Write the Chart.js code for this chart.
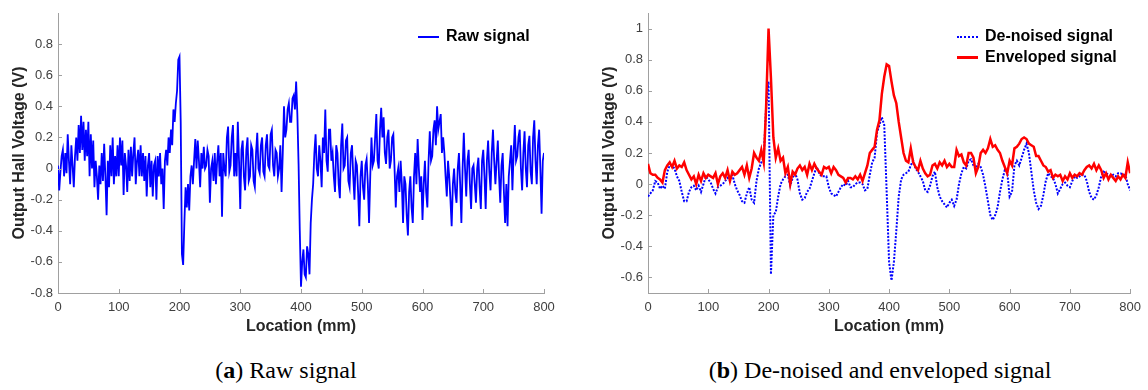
<!DOCTYPE html>
<html>
<head>
<meta charset="utf-8">
<script src="https://cdn.jsdelivr.net/npm/chart.js@4.4.1/dist/chart.umd.min.js"></script>
<style>
  body { margin: 0; background: #fff; width: 1148px; height: 390px; position: relative; overflow: hidden;
         font-family: "Liberation Sans", Arial, sans-serif; }
  .panel { position: absolute; top: 0; }
  #boxA { left: 0; }
  #boxB { left: 590px; }
  .leg { position: absolute; font-weight: bold; font-size: 16px; color: #000; line-height: 20px; white-space: nowrap; }
  .sw { display: inline-block; width: 21px; height: 0; vertical-align: middle; margin-right: 7px; }
  .cap { position: absolute; top: 357px; font-family: "Liberation Serif", serif; font-size: 24px; color: #000;
         white-space: nowrap; transform: translateX(-50%); }
</style>
</head>
<body>
<div class="panel" id="boxA"><canvas id="graficaA" width="580" height="340"></canvas></div>
<div class="panel" id="boxB"><canvas id="graficaB" width="558" height="340"></canvas></div>

<div class="leg" style="left:418px; top:26px;"><span class="sw" style="border-top:2px solid #0000ff;"></span>Raw signal</div>
<div class="leg" style="left:957px; top:26px;"><span class="sw" style="border-top:2px dotted #0000ff;"></span>De-noised signal</div>
<div class="leg" style="left:957px; top:47px;"><span class="sw" style="border-top:3px solid #ff0000;"></span>Enveloped signal</div>

<div class="cap" style="left:286px;">(<b>a</b>) Raw signal</div>
<div class="cap" style="left:880px;">(<b>b</b>) De-noised and enveloped signal</div>

<script>
// (a) señal cruda, una muestra cada 2 mm (0..800 mm)
const STEP_A = 2;
const raw = [
  0.02, -0.14, -0.02, 0.08, 0.12, -0.05, 0.1, -0.03, 0.22, 0.05,
  -0.1, 0.15, 0.02, -0.12, 0.08, 0.2, 0.05, 0.28, 0.1, 0.34,
  0.12, 0.3, 0.05, 0.25, 0.08, 0.3, -0.05, 0.22, 0.0, 0.18,
  -0.12, 0.05, -0.05, -0.2, 0.02, -0.1, 0.1, -0.08, 0.16, -0.05,
  -0.3, 0.05, -0.12, 0.15, -0.05, 0.2, -0.1, 0.08, -0.05, 0.15,
  -0.05, 0.2, 0.02, 0.18, -0.17, 0.1, 0.02, -0.15, 0.12, -0.08,
  0.14, -0.05, 0.1, 0.2, -0.1, 0.05, 0.12, -0.05, 0.15, -0.05,
  0.1, -0.08, 0.08, -0.18, 0.02, 0.1, -0.12, 0.05, -0.18, 0.02,
  0.05, -0.2, 0.08, -0.05, 0.1, -0.1, 0.0, -0.26, 0.05, 0.12,
  0.02, 0.2, 0.1, 0.25, 0.15, 0.38, 0.3, 0.42, 0.5, 0.7,
  0.72, 0.3, -0.55, -0.62, -0.35, -0.12, -0.25, -0.1, -0.27, -0.05,
  0.02, -0.1, 0.05, 0.19, 0.0, 0.18, 0.05, -0.12, 0.1, 0.0,
  0.14, 0.0, 0.02, 0.12, 0.08, -0.22, 0.0, 0.05, -0.08, 0.1,
  -0.1, 0.05, 0.15, -0.05, 0.1, -0.31, 0.1, 0.0, -0.05, 0.2,
  0.27, -0.02, 0.02, 0.2, 0.28, -0.05, 0.1, -0.05, 0.3, 0.05,
  -0.26, 0.12, 0.18, -0.05, -0.14, 0.12, 0.2, -0.08, -0.05, 0.15,
  0.12, -0.08, -0.12, 0.1, 0.23, 0.0, -0.03, 0.15, 0.2, -0.02,
  -0.05, 0.15, 0.22, 0.02, 0.0, 0.22, 0.25, 0.02, -0.05, 0.12,
  0.1, -0.05, 0.0, 0.15, -0.15, 0.1, 0.4, 0.2, 0.25, 0.38,
  0.42, 0.3, 0.3, 0.45, 0.47, 0.38, 0.56, 0.35, 0.03, -0.4,
  -0.76, -0.6, -0.52, -0.68, -0.7, -0.5, -0.55, -0.68, -0.35, -0.2,
  -0.1, 0.1, 0.22, 0.0, -0.05, 0.15, 0.05, -0.12, 0.2, 0.1,
  0.38, 0.05, -0.02, 0.25, 0.25, 0.05, 0.1, -0.05, -0.15, 0.15,
  0.1, -0.1, -0.19, 0.15, 0.29, 0.0, 0.02, 0.18, 0.2, -0.08,
  -0.12, 0.1, 0.15, -0.05, -0.2, 0.05, 0.02, -0.15, -0.37, -0.05,
  0.05, -0.12, -0.2, 0.02, 0.06, -0.1, -0.35, -0.05, 0.2, 0.02,
  0.05, 0.2, 0.35, 0.05, 0.0, 0.25, 0.39, 0.2, 0.33, 0.1,
  0.03, 0.2, 0.25, 0.0, 0.05, 0.2, 0.22, 0.0, -0.25, -0.05,
  0.0, -0.15, 0.05, -0.1, -0.35, -0.05, -0.1, -0.3, -0.43, -0.15,
  -0.05, -0.25, -0.35, -0.05, 0.1, -0.1, 0.19, 0.0, -0.15, -0.05,
  -0.33, -0.1, 0.05, -0.15, -0.25, 0.05, 0.24, 0.05, 0.08, 0.25,
  0.31, 0.15, 0.4, 0.25, 0.3, 0.35, 0.1, 0.2, 0.1, -0.05,
  -0.18, 0.05, -0.05, -0.2, -0.37, -0.1, 0.0, -0.15, -0.22, 0.0,
  0.1, -0.1, -0.35, 0.0, 0.23, 0.0, -0.18, 0.05, 0.12, -0.1,
  -0.26, 0.0, 0.02, -0.1, -0.22, 0.0, 0.07, -0.12, -0.26, 0.05,
  0.12, -0.05, -0.26, 0.05, 0.18, -0.02, -0.14, 0.1, 0.25, 0.05,
  -0.1, 0.05, 0.18, -0.05, -0.22, 0.02, 0.1, -0.15, -0.35, -0.1,
  -0.37, -0.05, 0.05, 0.15, -0.14, 0.1, 0.28, 0.05, 0.08, 0.2,
  0.25, 0.0, -0.14, 0.1, 0.24, 0.0, -0.12, 0.15, 0.21, -0.02,
  -0.1, 0.2, 0.31, 0.05, -0.1, 0.15, 0.25, 0.0, -0.29, 0.05,
  0.1
];

// (b) una muestra cada 4 mm (0..800 mm)
const STEP_B = 4;

// señal sin ruido
const denoised = [
  -0.08, -0.06, -0.04, 0.02, 0.01, -0.03, -0.01, -0.03, 0.08, 0.12,
  0.12, 0.1, 0.05, 0.02, -0.05, -0.11, -0.11, -0.05, -0.02, -0.01,
  -0.04, -0.01, -0.05, 0.0, 0.05, 0.03, 0.01, -0.03, -0.06, -0.02,
  -0.01, 0.0, 0.02, 0.04, 0.02, 0.06, 0.0, -0.04, -0.07, -0.11,
  -0.12, -0.06, -0.02, -0.1, -0.12, 0.02, 0.1, 0.14, 0.17, 0.5,
  0.66, -0.58, -0.2, -0.18, -0.08, 0.0, 0.03, 0.05, 0.06, -0.01,
  0.04, 0.07, 0.03, -0.06, -0.1, -0.09, -0.05, -0.03, 0.02, 0.07,
  0.11, 0.07, 0.05, 0.05, 0.05, -0.02, -0.06, -0.07, -0.08, -0.05,
  -0.02, 0.0, -0.01, 0.02, -0.02, -0.02, 0.0, 0.01, 0.01, 0.0,
  -0.04, -0.03, 0.06, 0.14, 0.17, 0.33, 0.38, 0.43, 0.38, -0.05,
  -0.5, -0.62, -0.5, -0.3, -0.08, 0.03, 0.06, 0.07, 0.08, 0.12,
  0.15, 0.1, 0.08, 0.05, 0.02, -0.04, -0.05, -0.01, 0.05, 0.08,
  -0.02, -0.08, -0.11, -0.13, -0.15, -0.12, -0.1, -0.14, -0.1, 0.0,
  0.07, 0.11, 0.1, 0.15, 0.16, 0.12, 0.1, 0.13, 0.11, 0.06,
  -0.02, -0.11, -0.2, -0.23, -0.2, -0.15, -0.05, 0.03, 0.09, 0.08,
  -0.08, -0.05, 0.12, 0.15, 0.12, 0.17, 0.22, 0.26, 0.2, 0.08,
  -0.04, -0.12, -0.16, -0.14, -0.07, 0.02, 0.07, 0.05, 0.04, 0.0,
  -0.06, -0.03, 0.0, 0.01, -0.01, -0.02, 0.02, 0.05, 0.04, 0.05,
  0.06, 0.06, 0.02, -0.05, -0.09, -0.1, -0.07, -0.02, 0.05, 0.08,
  0.07, 0.06, 0.05, 0.06, 0.05, 0.07, 0.07, 0.06, 0.06, 0.0,
  -0.04
];

// envolvente
const enveloped = [
  0.13, 0.07, 0.06, 0.06, 0.04, 0.03, 0.01, 0.09, 0.12, 0.14,
  0.11, 0.15, 0.1, 0.12, 0.11, 0.14, 0.09, 0.06, 0.03, 0.05,
  0.0, 0.06, 0.02, 0.07, 0.04, 0.06, 0.05, 0.04, 0.07, 0.0,
  0.05, 0.07, 0.04, 0.09, 0.02, 0.08, 0.06, 0.07, 0.09, 0.11,
  0.06, 0.12, 0.04, 0.1, 0.2, 0.17, 0.15, 0.22, 0.14, 0.5,
  1.0, 0.68, 0.3, 0.17, 0.23, 0.15, 0.17, 0.07, 0.11, 0.0,
  0.08, 0.06, 0.1, 0.12, 0.09, 0.11, 0.06, 0.13, 0.09, 0.13,
  0.1, 0.08, 0.06, 0.11, 0.1, 0.11, 0.07, 0.11, 0.09, 0.06,
  0.05, 0.04, 0.01, 0.04, 0.04, 0.03, 0.05, 0.03, 0.06, 0.02,
  0.07, 0.12, 0.2, 0.22, 0.24, 0.35, 0.41, 0.58, 0.69, 0.77,
  0.76, 0.66, 0.57, 0.52, 0.4, 0.3, 0.2, 0.15, 0.14, 0.23,
  0.14, 0.11, 0.09, 0.15, 0.1, 0.07, 0.05, 0.06, 0.12, 0.13,
  0.1, 0.14, 0.12, 0.15, 0.11, 0.13, 0.11, 0.11, 0.22, 0.18,
  0.19, 0.14, 0.12, 0.2, 0.2, 0.17, 0.07, 0.11, 0.2, 0.22,
  0.2, 0.23, 0.29, 0.24, 0.25, 0.22, 0.2, 0.15, 0.11, 0.07,
  0.15, 0.12, 0.23, 0.24, 0.26, 0.29, 0.3, 0.29, 0.26, 0.25,
  0.24, 0.18, 0.18, 0.15, 0.12, 0.11, 0.08, 0.09, 0.04, 0.06,
  0.05, 0.06, 0.02, 0.05, 0.03, 0.07, 0.04, 0.06, 0.05, 0.07,
  0.06, 0.09, 0.11, 0.12, 0.1, 0.13, 0.09, 0.12, 0.09, 0.04,
  0.07, 0.03, 0.06, 0.04, 0.02, 0.05, 0.03, 0.06, 0.04, 0.14,
  0.07
];

// marcas de los ejes
const xTicks = [0, 100, 200, 300, 400, 500, 600, 700, 800];
const yTicksA = [-0.8, -0.6, -0.4, -0.2, 0, 0.2, 0.4, 0.6, 0.8];
const yTicksB = [-0.6, -0.4, -0.2, 0, 0.2, 0.4, 0.6, 0.8, 1];

const puntos = (serie, paso) => serie.map((v, i) => ({ x: i * paso, y: v }));

const GRIS_EJE = '#a0a0a0';

// MATLAB dibuja las marcas hacia dentro
const marcasInternas = {
  id: 'marcasInternas',
  afterDraw(chart) {
    const { ctx, chartArea, scales } = chart;
    ctx.save();
    ctx.strokeStyle = GRIS_EJE;
    ctx.lineWidth = 1;
    ctx.beginPath();
    scales.x.ticks.forEach(t => {
      const px = Math.round(scales.x.getPixelForValue(t.value)) + 0.5;
      ctx.moveTo(px, chartArea.bottom);
      ctx.lineTo(px, chartArea.bottom - 4);
    });
    scales.y.ticks.forEach(t => {
      const py = Math.round(scales.y.getPixelForValue(t.value)) + 0.5;
      ctx.moveTo(chartArea.left, py);
      ctx.lineTo(chartArea.left + 4, py);
    });
    ctx.stroke();
    ctx.restore();
  }
};

const opciones = (padRight, yMin, yMax, yTicks) => ({
  responsive: false,
  animation: false,
  events: [],
  layout: { padding: { top: 13, right: padRight, left: 0, bottom: 0 } },
  plugins: { legend: { display: false }, tooltip: { enabled: false } },
  elements: { point: { radius: 0 }, line: { tension: 0 } },
  scales: {
    x: {
      type: 'linear', min: 0, max: 800,
      afterBuildTicks: s => { s.ticks = xTicks.map(v => ({ value: v })); },
      afterFit: s => { s.height = 47; },
      grid: { display: false, drawTicks: false },
      border: { color: GRIS_EJE, width: 1 },
      ticks: { font: { size: 13 }, color: '#404040', padding: 7, maxRotation: 0, autoSkip: false },
      title: { display: true, text: 'Location (mm)', color: '#262626',
               font: { size: 16, weight: 'bold' }, padding: { top: 0, bottom: 4 } }
    },
    y: {
      type: 'linear', min: yMin, max: yMax,
      afterBuildTicks: s => { s.ticks = yTicks.map(v => ({ value: v })); },
      afterFit: s => { s.width = 58; },
      grid: { display: false, drawTicks: false },
      border: { color: GRIS_EJE, width: 1 },
      ticks: { font: { size: 13 }, color: '#404040', padding: 5,
               callback: v => String(Math.round(v * 10) / 10) },
      title: { display: true, text: 'Output Hall Voltage (V)', color: '#262626',
               font: { size: 16, weight: 'bold' }, padding: { top: 10, bottom: 0 } }
    }
  }
});

Chart.defaults.font.family = '"Liberation Sans", Arial, sans-serif';

new Chart(document.getElementById('graficaA').getContext('2d'), {
  type: 'line',
  data: {
    datasets: [{
      label: 'Raw signal',
      data: puntos(raw, STEP_A),
      borderColor: '#0000ff',
      borderWidth: 1.8,
      fill: false
    }]
  },
  options: opciones(36, -0.8, 1.0, yTicksA),
  plugins: [marcasInternas]
});

new Chart(document.getElementById('graficaB').getContext('2d'), {
  type: 'line',
  data: {
    datasets: [{
      label: 'Enveloped signal',
      data: puntos(enveloped, STEP_B),
      borderColor: '#ff0000',
      borderWidth: 2.5,
      fill: false
    }, {
      label: 'De-noised signal',
      data: puntos(denoised, STEP_B),
      borderColor: '#0000ff',
      borderWidth: 2,
      borderDash: [2, 1.5],
      fill: false
    }]
  },
  options: opciones(14, -0.7, 1.1, yTicksB),
  plugins: [marcasInternas]
});
</script>
</body>
</html>
